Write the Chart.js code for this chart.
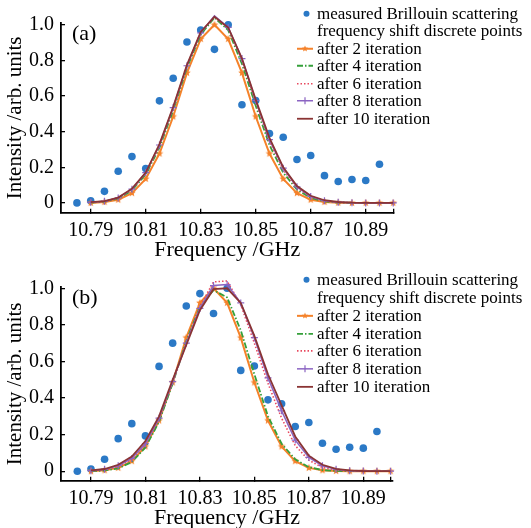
<!DOCTYPE html>
<html>
<head>
<meta charset="utf-8">
<title>Brillouin spectrum fitting</title>
<script src="https://cdn.jsdelivr.net/npm/chart.js@4.4.1/dist/chart.umd.min.js"></script>
<style>
  html, body { margin: 0; padding: 0; background: #fff; }
  #page { position: relative; width: 531px; height: 528px; overflow: hidden;
          font-family: "Liberation Serif", "Times New Roman", serif; color: #000; }
  .panel { position: absolute; left: 0; width: 531px; height: 264px; }
  .panel canvas { position: absolute; left: 0; top: 0; }
  .tag { position: absolute; left: 72px; font-size: 22px; line-height: 22px; }
  .legend { position: absolute; left: 296px; font-size: 17px; white-space: nowrap; }
  .legend .row { position: relative; padding-left: 21px; }
  .legend svg { position: absolute; left: 0; top: 0; }
</style>
</head>
<body>
<div id="page">
  <div class="panel" id="panelA" style="top:0">
    <canvas id="chartA" width="531" height="264"></canvas>
    <div class="tag" style="top:22px">(a)</div>
    <div class="legend" id="legendA"></div>
  </div>
  <div class="panel" id="panelB" style="top:264px">
    <canvas id="chartB" width="531" height="264"></canvas>
    <div class="tag" style="top:22px">(b)</div>
    <div class="legend" id="legendB"></div>
  </div>
</div>
<script>
// frequencies (GHz)
const freqLine = [10.79, 10.795, 10.8, 10.805, 10.81, 10.815, 10.82, 10.825, 10.83, 10.835, 10.84, 10.845,
  10.85, 10.855, 10.86, 10.865, 10.87, 10.875, 10.88, 10.885, 10.89, 10.895, 10.9];
const freqMeasured = [10.785, 10.79, 10.795, 10.8, 10.805, 10.81, 10.815, 10.82, 10.825, 10.83, 10.835, 10.84,
  10.845, 10.85, 10.855, 10.86, 10.865, 10.87, 10.875, 10.88, 10.885, 10.89, 10.895];

// measured discrete points (same in both panels)
const measured = [0, 0.012, 0.065, 0.178, 0.26, 0.193, 0.573, 0.70, 0.903, 0.971, 0.862, 1.0,
  0.551, 0.575, 0.39, 0.369, 0.244, 0.266, 0.153, 0.12, 0.131, 0.126, 0.217];

// panel (a) fits
const iter2A = [0, 0.005, 0.018, 0.055, 0.135, 0.277, 0.485, 0.73, 0.92, 1.0, 0.92, 0.73,
  0.485, 0.277, 0.135, 0.055, 0.018, 0.005, 0.001, 0, 0, 0, 0];
const iter4A = [0.002, 0.007, 0.025, 0.07, 0.16, 0.31, 0.52, 0.76, 0.945, 1.04, 0.97, 0.78,
  0.545, 0.325, 0.17, 0.075, 0.028, 0.009, 0.002, 0, 0, 0, 0];
const iter6A = [0.003, 0.009, 0.028, 0.075, 0.165, 0.32, 0.53, 0.77, 0.955, 1.045, 0.98, 0.80,
  0.565, 0.345, 0.185, 0.085, 0.033, 0.011, 0.003, 0.001, 0, 0, 0];
const iter8A = [0.003, 0.009, 0.028, 0.077, 0.17, 0.325, 0.535, 0.77, 0.955, 1.05, 0.985, 0.81,
  0.575, 0.355, 0.195, 0.09, 0.036, 0.012, 0.004, 0.001, 0, 0, 0];
const iter10A = [0.004, 0.01, 0.03, 0.08, 0.17, 0.33, 0.54, 0.775, 0.96, 1.045, 0.985, 0.81,
  0.58, 0.365, 0.2, 0.095, 0.04, 0.015, 0.005, 0.001, 0, 0, 0];

// panel (b) fits
const iter2B = [0, 0.005, 0.018, 0.055, 0.135, 0.277, 0.485, 0.73, 0.92, 1.0, 0.92, 0.73,
  0.485, 0.277, 0.135, 0.055, 0.018, 0.005, 0.001, 0, 0, 0, 0];
const iter4B = [0, 0.004, 0.015, 0.05, 0.13, 0.27, 0.48, 0.71, 0.90, 0.99, 0.95, 0.77,
  0.53, 0.30, 0.15, 0.065, 0.022, 0.006, 0.002, 0, 0, 0, 0];
const iter6B = [0.002, 0.008, 0.025, 0.065, 0.145, 0.285, 0.485, 0.70, 0.90, 1.035, 1.04, 0.91,
  0.70, 0.48, 0.29, 0.14, 0.06, 0.02, 0.007, 0.002, 0, 0, 0];
const iter8B = [0.003, 0.01, 0.03, 0.07, 0.15, 0.29, 0.49, 0.70, 0.89, 1.015, 1.02, 0.92,
  0.73, 0.51, 0.33, 0.17, 0.075, 0.03, 0.01, 0.003, 0.001, 0, 0];
const iter10B = [0.004, 0.012, 0.035, 0.08, 0.165, 0.30, 0.50, 0.69, 0.88, 0.995, 1.0, 0.92,
  0.74, 0.53, 0.36, 0.19, 0.085, 0.035, 0.013, 0.004, 0.001, 0, 0];

const xTicks = [10.79, 10.81, 10.83, 10.85, 10.87, 10.89, 10.9];
const xTickLabels = ['10.79', '10.81', '10.83', '10.85', '10.87', '10.89', ''];
const yTicks = [0, 0.2, 0.4, 0.6, 0.8, 1.0];
const yTickLabels = ['0', '0.2', '0.4', '0.6', '0.8', '1.0'];

const measuredLabel = ['measured Brillouin scattering', 'frequency shift discrete points'];
const seriesLabels = ['after 2 iteration', 'after 4 iteration', 'after 6 iteration', 'after 8 iteration', 'after 10 iteration'];
const xTitle = 'Frequency /GHz';
const yTitle = 'Intensity /arb. units';

const SERIF = '"Liberation Serif", "Times New Roman", serif';
const INK = '#000';
const BLUE = '#2b79c6';
// style per fitted series: color, dash, marker
const styles = [
  { color: '#f5822a', dash: [], width: 2, marker: 'star' },
  { color: '#35a03a', dash: [6, 2, 1.5, 2], width: 1.8, marker: null },
  { color: '#e8485e', dash: [1.5, 2], width: 1.6, marker: null },
  { color: '#8b64c2', dash: [], width: 1.5, marker: 'cross' },
  { color: '#8a3434', dash: [], width: 1.8, marker: null },
];

function makeStar(color, r) {
  const c = document.createElement('canvas');
  const s = Math.ceil(r * 2) + 2;
  c.width = s; c.height = s;
  const ctx = c.getContext('2d');
  ctx.beginPath();
  for (let i = 0; i < 10; i++) {
    const rad = i % 2 === 0 ? r : r * 0.45;
    const a = -Math.PI / 2 + i * Math.PI / 5;
    const px = s / 2 + rad * Math.cos(a), py = s / 2 + rad * Math.sin(a);
    if (i === 0) ctx.moveTo(px, py); else ctx.lineTo(px, py);
  }
  ctx.closePath();
  ctx.fillStyle = color;
  ctx.fill();
  return c;
}
const starImg = makeStar(styles[0].color, 4);

function buildPanel(canvasId, p) {
  const datasets = [{
    type: 'scatter',
    label: measuredLabel.join(' '),
    data: freqMeasured.map(function (f, i) { return { x: f, y: measured[i] }; }),
    backgroundColor: BLUE,
    borderColor: BLUE,
    pointRadius: 3.8,
    pointBorderWidth: 0,
    order: 6,
    clip: false,
  }];
  p.series.forEach(function (vals, k) {
    const st = styles[k];
    datasets.push({
      type: 'line',
      label: seriesLabels[k],
      data: freqLine.map(function (f, i) { return { x: f, y: vals[i] }; }),
      borderColor: st.color,
      backgroundColor: st.color,
      borderWidth: st.width,
      borderDash: st.dash,
      tension: 0,
      fill: false,
      pointStyle: st.marker === 'star' ? starImg : 'cross',
      pointRadius: st.marker ? 3.5 : 0,
      pointBorderWidth: 1.2,
      order: 5 - k,
      clip: false,
    });
  });

  return new Chart(document.getElementById(canvasId), {
    type: 'line',
    data: { datasets: datasets },
    options: {
      responsive: false,
      animation: false,
      events: [],
      layout: { padding: { left: 0, right: 531 - p.right, top: p.top, bottom: 0 } },
      plugins: { legend: { display: false }, tooltip: { enabled: false } },
      scales: {
        x: {
          type: 'linear',
          min: p.xMin,
          max: p.xMax,
          afterFit: function (s) { s.height = p.xAxisH; },
          afterBuildTicks: function (s) { s.ticks = xTicks.map(function (v) { return { value: v }; }); },
          ticks: {
            autoSkip: false, maxRotation: 0, padding: 10, color: INK,
            font: { family: SERIF, size: 20 },
            callback: function (v, i) { return xTickLabels[i]; },
          },
          grid: { display: true, drawOnChartArea: false, drawTicks: true, tickLength: -4, color: INK, lineWidth: 1.3 },
          border: { display: true, color: INK, width: 1.8 },
          title: {
            display: true, text: xTitle, color: INK,
            font: { family: SERIF, size: 22, lineHeight: 0.9 },
            padding: { top: 0, bottom: p.xTitlePad },
          },
        },
        y: {
          type: 'linear',
          min: p.yMin,
          max: p.yMax,
          afterFit: function (s) { s.width = 61; },
          afterBuildTicks: function (s) { s.ticks = yTicks.map(function (v) { return { value: v }; }); },
          ticks: {
            padding: 11, color: INK,
            font: { family: SERIF, size: 20 },
            callback: function (v, i) { return yTickLabels[i]; },
          },
          grid: { display: true, drawOnChartArea: false, drawTicks: true, tickLength: -4, color: INK, lineWidth: 1.3 },
          border: { display: true, color: INK, width: 1.8 },
          title: {
            display: true, text: yTitle, color: INK,
            font: { family: SERIF, size: 21 },
            padding: { top: 3, bottom: 0 },
          },
        },
      },
    },
  });
}

function swatch(kind, st) {
  const w = 18, h = 18, cy = 9;
  let s = '<svg width="' + w + '" height="' + h + '" xmlns="http://www.w3.org/2000/svg">';
  if (kind === 'dot') {
    s += '<circle cx="10.5" cy="' + cy + '" r="3" fill="' + BLUE + '"/>';
  } else if (kind === 'line') {
    const dash = st.dash.length ? ' stroke-dasharray="' + st.dash.join(' ') + '"' : '';
    s += '<line x1="1" y1="' + cy + '" x2="17" y2="' + cy + '" stroke="' + st.color + '" stroke-width="' + st.width + '"' + dash + '/>';
    if (st.marker === 'star') {
      let pts = [];
      for (let i = 0; i < 10; i++) {
        const rad = i % 2 === 0 ? 3.3 : 1.5;
        const a = -Math.PI / 2 + i * Math.PI / 5;
        pts.push((9 + rad * Math.cos(a)).toFixed(2) + ',' + (cy + rad * Math.sin(a)).toFixed(2));
      }
      s += '<polygon points="' + pts.join(' ') + '" fill="' + st.color + '"/>';
    } else if (st.marker === 'cross') {
      s += '<line x1="9" y1="' + (cy - 3.5) + '" x2="9" y2="' + (cy + 3.5) + '" stroke="' + st.color + '" stroke-width="1.2"/>';
    }
  }
  return s + '</svg>';
}

function buildLegend(id, firstCenter, pitch) {
  const el = document.getElementById(id);
  el.style.top = (firstCenter - pitch / 2) + 'px';
  let html = '';
  const row = function (sw, text) {
    return '<div class="row" style="height:' + pitch + 'px;line-height:' + pitch + 'px">' +
      sw.replace('height="18"', 'height="' + pitch + '"') + text + '</div>';
  };
  html += row(swatch('dot'), measuredLabel[0]);
  html += row('', measuredLabel[1]);
  seriesLabels.forEach(function (lab, k) {
    html += row(swatch('line', styles[k]), lab);
  });
  el.innerHTML = html;
  el.querySelectorAll('svg').forEach(function (svg) {
    svg.setAttribute('viewBox', '0 ' + (9 - pitch / 2) + ' 18 ' + pitch);
  });
}

buildPanel('chartA', {
  series: [iter2A, iter4A, iter6A, iter8A, iter10A],
  xMin: 10.7792, xMax: 10.9001, yMin: -0.055, yMax: 1.01,
  top: 15, right: 393.5, xAxisH: 51.3, xTitlePad: 3.5,
});
buildPanel('chartB', {
  series: [iter2B, iter4B, iter6B, iter8B, iter10B],
  xMin: 10.779, xMax: 10.9009, yMin: -0.052, yMax: 1.007,
  top: 23, right: 393, xAxisH: 47.3, xTitlePad: 0,
});
buildLegend('legendA', 13.5, 17.5);
buildLegend('legendB', 16.3, 17.7);
</script>
</body>
</html>
